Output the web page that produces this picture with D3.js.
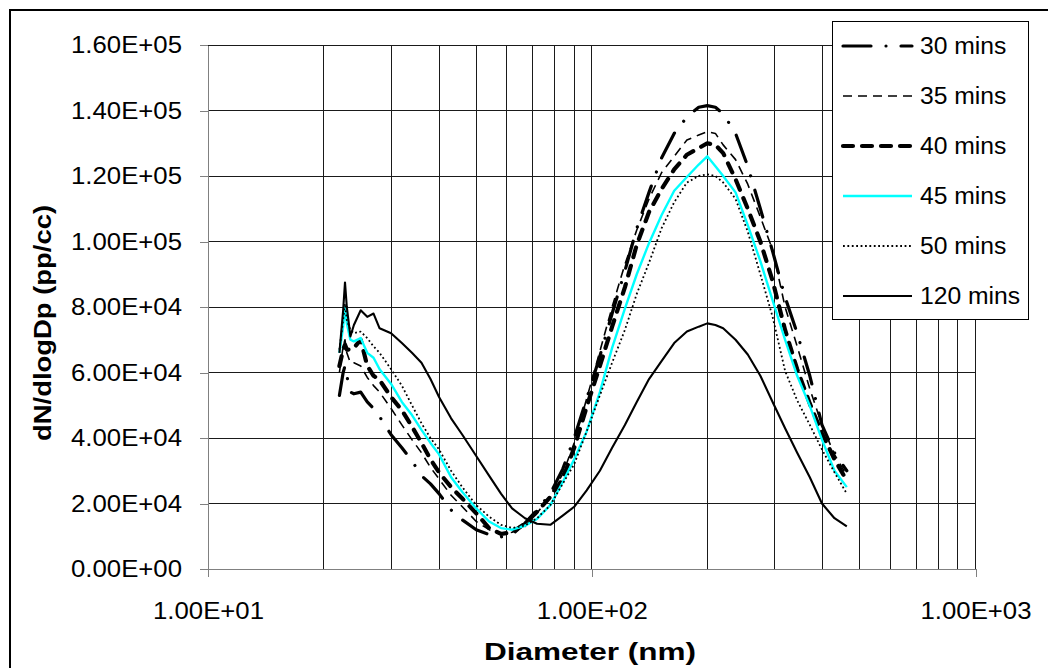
<!DOCTYPE html>
<html>
<head>
<meta charset="utf-8">
<script src="https://cdn.jsdelivr.net/npm/d3@7/dist/d3.min.js"></script>
<style>
  html, body { margin: 0; padding: 0; background: #fff; }
  svg { display: block; font-family: "Liberation Sans", Arial, sans-serif; }
</style>
</head>
<body>
<svg id="chart" width="1048" height="668"></svg>
<script>
// Particle size distributions (dN/dlogDp, pp/cc) at several times after start.
const diameters = [22, 22.5, 22.75, 23, 23.5, 24, 25, 26, 27, 28,
                   30, 32, 34, 36, 38, 40, 43, 46, 50, 54,
                   58, 62, 67, 72, 78, 84, 90, 97, 105, 113,
                   122, 131, 141, 152, 164, 177, 190, 200, 210, 220,
                   237, 255, 275, 296, 319, 343, 370, 398, 429, 462];

const mins30 = [53000, 60000, 62000, 59000, 54000, 53500, 54000, 51000, 49000, 46500,
                41000, 37000, 33000, 28500, 26000, 23000, 18000, 15000, 12000, 10500,
                9800, 10500, 14000, 18000, 23000, 30500, 40000, 52000, 65000, 78000,
                91000, 104000, 115000, 125500, 133000, 138000, 141000, 141500, 141000, 139000,
                133000, 123000, 110000, 97000, 83000, 72000, 59000, 44000, 35500, 30000];

const mins35 = [60000, 68000, 70000, 66000, 63000, 63000, 62000, 58500, 56000, 54000,
                49000, 44000, 39500, 35500, 31000, 27500, 22500, 19000, 14500, 12000,
                10800, 11200, 13000, 17000, 22500, 29000, 38500, 52000, 66500, 80000,
                93000, 103500, 113000, 121000, 126000, 131000, 132500, 133500, 133000, 129500,
                125000, 117500, 107500, 97500, 80000, 68000, 55000, 44000, 35000, 28500];

const mins40 = [62000, 67000, 68500, 67000, 67000, 67500, 70000, 62000, 59000, 57700,
                52500, 48500, 43500, 38500, 33500, 29500, 25000, 21500, 17000, 12500,
                10700, 11200, 13800, 17500, 22000, 27500, 37000, 49500, 62000, 74000,
                86000, 99000, 109000, 116000, 122000, 126500, 128500, 130000, 129500, 127000,
                119000, 110000, 100000, 88000, 73000, 61000, 50500, 41500, 33500, 27000];

const mins45 = [66000, 74000, 80000, 75000, 70000, 69500, 70500, 66000, 64500, 61000,
                56500, 51000, 47000, 42500, 38500, 35000, 28000, 23500, 18500, 14500,
                12500, 12000, 13200, 15300, 19500, 26500, 33500, 42000, 54000, 67500,
                79500, 90000, 99500, 108000, 115500, 119700, 123500, 126000, 123000, 120000,
                115000, 105000, 94000, 82000, 70000, 59000, 49800, 39500, 30000, 25000];

const mins50 = [67000, 76000, 81000, 76000, 73000, 72000, 72500, 70500, 68000, 66000,
                61000, 56000, 50000, 44500, 40000, 36500, 30000, 25000, 19500, 16000,
                13500, 12500, 13300, 15500, 19500, 26000, 32000, 42000, 53000, 63000,
                73000, 84000, 93500, 104000, 112000, 118000, 120000, 120500, 120000, 118000,
                113000, 103000, 90000, 77000, 60500, 51500, 44000, 36500, 29500, 23000];

const mins120 = [66000, 79000, 87500, 80000, 71000, 74500, 79000, 77000, 78000, 73500,
                 72000, 69000, 66000, 63000, 58000, 52500, 46000, 41000, 34500, 28500,
                 23000, 18500, 15500, 13800, 13500, 16300, 19000, 24000, 30000, 37000,
                 44000, 51000, 58000, 63500, 69000, 72500, 74000, 75000, 74500, 73500,
                 70000, 65500, 59000, 51000, 43000, 35500, 28000, 20000, 15500, 13000];

const seriesNames = ["30 mins", "35 mins", "40 mins", "45 mins", "50 mins", "120 mins"];
const seriesValues = [mins30, mins35, mins40, mins45, mins50, mins120];

const yTicks = [0, 20000, 40000, 60000, 80000, 100000, 120000, 140000, 160000];
const xTicks = [10, 100, 1000];

// Line styles per series
const styles = [
  { color: "#000", width: 3.2, dash: "28,15,0.01,15", cap: "round" },
  { color: "#000", width: 1.6, dash: "9,6", cap: "butt" },
  { color: "#000", width: 4.2, dash: "10,9", cap: "round" },
  { color: "#00FFFF", width: 2.4, dash: null, cap: "butt" },
  { color: "#000", width: 1.8, dash: "1.8,2.6", cap: "butt" },
  { color: "#000", width: 2.1, dash: null, cap: "butt" }
];

const svg = d3.select("#chart");
const fontSize = 23.5;

svg.append("rect").attr("width", 1048).attr("height", 668).attr("fill", "#fff");

// Outer chart frame
svg.append("path")
  .attr("d", "M10,668 V10 H1048")
  .attr("fill", "none").attr("stroke", "#000").attr("stroke-width", 2);

const plotLeft = 208, plotRight = 975.5, plotTop = 45, plotBottom = 569;
const x = d3.scaleLog().domain([10, 1000]).range([plotLeft, plotRight]);
const y = d3.scaleLinear().domain([0, 160000]).range([plotBottom, plotTop]);

// Gridlines
const grid = svg.append("g").attr("shape-rendering", "crispEdges");
const minorX = [];
[10, 100].forEach(b => { for (let k = 2; k <= 10; k++) minorX.push(b * k); });
grid.selectAll("line.v").data(minorX).enter().append("line")
  .attr("x1", d => x(d)).attr("x2", d => x(d))
  .attr("y1", plotTop).attr("y2", plotBottom)
  .attr("stroke", "#1a1a1a").attr("stroke-width", 1);
grid.selectAll("line.h").data(yTicks.filter(v => v > 0)).enter().append("line")
  .attr("x1", plotLeft).attr("x2", plotRight)
  .attr("y1", d => y(d)).attr("y2", d => y(d))
  .attr("stroke", "#1a1a1a").attr("stroke-width", 1);

function fmtE(v) {
  if (v === 0) return "0.00E+00";
  const e = Math.floor(Math.log10(v) + 1e-9);
  const m = v / Math.pow(10, e);
  return m.toFixed(2) + "E" + (e < 0 ? "-" : "+") + String(Math.abs(e)).padStart(2, "0");
}

// Axes
const yAxis = d3.axisLeft(y).tickValues(yTicks).tickFormat(fmtE)
  .tickSizeInner(8).tickSizeOuter(0).tickPadding(18);
const gy = svg.append("g").attr("transform", `translate(${plotLeft},0)`).call(yAxis);
const xAxis = d3.axisBottom(x).tickValues(xTicks).tickFormat(fmtE)
  .tickSizeInner(8).tickSizeOuter(0).tickPadding(25);
const gx = svg.append("g").attr("transform", `translate(0,${plotBottom})`).call(xAxis);

[gx, gy].forEach(g => {
  g.attr("shape-rendering", "crispEdges");
  g.select(".domain").attr("stroke", "#808080").attr("stroke-width", 1);
  g.selectAll(".tick line").attr("stroke", "#808080").attr("stroke-width", 1);
  g.selectAll(".tick text")
    .attr("fill", "#000")
    .attr("font-family", '"Liberation Sans", Arial, sans-serif')
    .attr("font-size", fontSize)
    .attr("textLength", 111)
    .attr("lengthAdjust", "spacingAndGlyphs");
});

// Data lines
const line = d3.line()
  .x((d, i) => x(diameters[i]))
  .y(d => y(d));

seriesValues.forEach((vals, i) => {
  const s = styles[i];
  svg.append("path")
    .datum(vals)
    .attr("d", line)
    .attr("fill", "none")
    .attr("stroke", s.color)
    .attr("stroke-width", s.width)
    .attr("stroke-linecap", s.cap)
    .attr("stroke-linejoin", "round")
    .attr("stroke-dasharray", s.dash);
});

// Axis titles
svg.append("text")
  .attr("x", 590).attr("y", 660)
  .attr("text-anchor", "middle")
  .attr("font-size", fontSize).attr("font-weight", "bold")
  .attr("textLength", 212).attr("lengthAdjust", "spacingAndGlyphs")
  .text("Diameter (nm)");

svg.append("text")
  .attr("transform", "translate(51,323) rotate(-90)")
  .attr("text-anchor", "middle")
  .attr("font-size", fontSize).attr("font-weight", "bold")
  .attr("textLength", 236).attr("lengthAdjust", "spacingAndGlyphs")
  .text("dN/dlogDp (pp/cc)");

// Legend
const lg = svg.append("g");
lg.append("rect")
  .attr("x", 832.5).attr("y", 21.5).attr("width", 196).attr("height", 298)
  .attr("fill", "#fff").attr("stroke", "#000").attr("stroke-width", 1);
const rowY = d3.scalePoint().domain(seriesNames).range([46, 296]);
seriesNames.forEach((name, i) => {
  const s = styles[i];
  const yy = rowY(name);
  lg.append("line")
    .attr("x1", 843).attr("x2", 912).attr("y1", yy).attr("y2", yy)
    .attr("stroke", s.color)
    .attr("stroke-width", s.width)
    .attr("stroke-linecap", s.cap)
    .attr("stroke-dasharray", s.dash);
  lg.append("text")
    .attr("transform", `translate(920,${yy}) scale(1.05,1)`)
    .attr("dy", "0.36em")
    .attr("font-size", fontSize)
    .text(name);
});
</script>
</body>
</html>
